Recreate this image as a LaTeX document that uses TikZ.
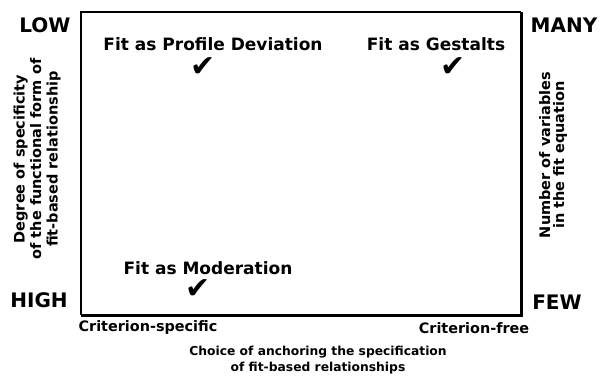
\documentclass[tikz,border=0pt]{standalone}
\usepackage{fontspec}
\setmainfont{DejaVu Sans}
\newfontfamily\symfont{DejaVu Sans}
\tikzset{
  lbl/.style={font=\bfseries\fontsize{14.4}{17}\selectfont, inner sep=0pt},
  ends/.style={font=\bfseries\fontsize{20}{22}\selectfont, inner sep=0pt},
  axis/.style={font=\bfseries\fontsize{14.5}{16.5}\selectfont, inner sep=0pt, align=center},
  fitlbl/.style={font=\bfseries\fontsize{17}{20}\selectfont, inner sep=0pt},
  tick/.style={font=\symfont\fontsize{30}{30}\selectfont, inner sep=0pt},
}
\begin{document}
\begin{tikzpicture}[x=1pt,y=-1pt]
  \useasboundingbox (0,0) rectangle (600,389);
  % frame
  \coordinate (tl) at (81,12);
  \coordinate (tr) at (521,12);
  \coordinate (br) at (521,315);
  \coordinate (bl) at (81,315);
  \draw[line width=1.3pt] (bl) -- (tl) -- (tr);
  \draw[line width=3pt] (tr) -- (br) -- (bl);
  % ends of the axes
  \node[ends] (low) at (45,25) {LOW};
  \node[ends] (high) at (39,300) {HIGH};
  \node[ends] (many) at (564,25) {MANY};
  \node[ends] (few) at (557,302) {FEW};
  \node[axis, rotate=90] (spec) at (37,159) {Degree of specificity\\of the functional form of\\fit-based relationship};
  \node[axis, rotate=90, font=\bfseries\fontsize{14.5}{14}\selectfont] (nvar) at (553,155) {Number of variables\\in the fit equation};
  \node[lbl] (crspec) at (148,328) {Criterion-specific};
  \node[lbl] (crfree) at (474,328) {Criterion-free};
  \node[axis, font=\bfseries\fontsize{12.3}{16}\selectfont] (anchor) at (318,360) {Choice of anchoring the specification\\of fit-based relationships};
  % the three forms of fit
  \node[fitlbl] (profile) at (213,44) {Fit as Profile Deviation};
  \node[tick] (tprofile) at (203,67) {✔};
  \node[fitlbl] (gestalt) at (436,44) {Fit as Gestalts};
  \node[tick] (tgestalt) at (453,67) {✔};
  \node[fitlbl] (moder) at (208,268) {Fit as Moderation};
  \node[tick] (tmoder) at (198,289) {✔};
\end{tikzpicture}
\end{document}
